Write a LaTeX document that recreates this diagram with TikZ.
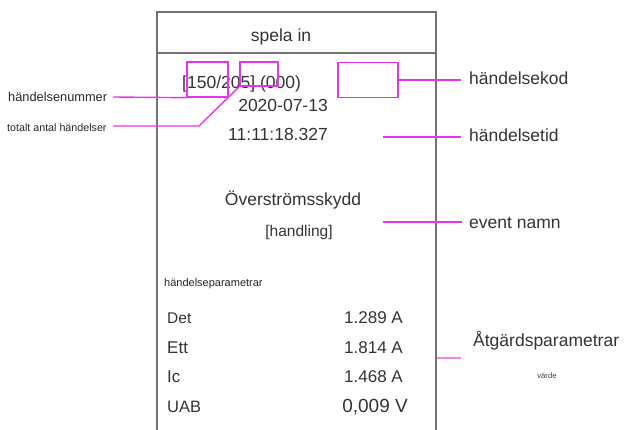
\documentclass[tikz,border=0pt]{standalone}
\usepackage{fontspec}
\setmainfont{Liberation Sans}
\begin{document}
\begin{tikzpicture}[x=1pt,y=-1pt,
  txt/.style={inner sep=0pt, text=black!80, font=\fontsize{17.5}{20}\selectfont},
  small/.style={inner sep=0pt, text=black!85, font=\fontsize{11}{13}\selectfont},
  tiny/.style={inner sep=0pt, text=black!75, font=\fontsize{7.8}{9}\selectfont},
  frameline/.style={draw=black!55, line width=1.3pt},
  mag/.style={draw={rgb,255:red,235;green,50;blue,235}, line width=1.4pt},
  mbox/.style={mag, inner sep=0pt, fill=none}]
\useasboundingbox (0,0) rectangle (624,430);
% screen frame
\coordinate (fl) at (157,430);
\coordinate (ftl) at (157,12);
\coordinate (ftr) at (436,12);
\coordinate (fr) at (436,430);
\draw[frameline] (fl) -- (ftl) -- (ftr) -- (fr);
\coordinate (hl) at (157,53);
\coordinate (hr) at (436,53);
\draw[frameline] (hl) -- (hr);
\node[txt, anchor=base] (title) at (281,42) {spela in};
% header data
\node[txt, anchor=base west] (idx) at (182,89) {[150/205] (000)};
\node[txt, anchor=base east] (date) at (328,112) {2020-07-13};
\node[txt, anchor=base east] (time) at (328,141) {11:11:18.327};
\node[txt, anchor=base] (ename) at (293,206) {Överströmsskydd};
\node[txt, anchor=base, font=\fontsize{15.5}{18}\selectfont] (act) at (299,237) {[handling]};
\node[small, anchor=base west] (ptitle) at (164,287) {händelseparametrar};
% parameters
\node[txt, anchor=base west, font=\fontsize{15.5}{18}\selectfont] (p1) at (167,324) {Det};
\node[txt, anchor=base west, font=\fontsize{17}{20}\selectfont] (p2) at (167,354) {Ett};
\node[txt, anchor=base west, font=\fontsize{17}{20}\selectfont] (p3) at (167,382) {Ic};
\node[txt, anchor=base west, font=\fontsize{16.5}{20}\selectfont] (p4) at (167,412) {UAB};
\node[txt, anchor=base east, font=\fontsize{17}{20}\selectfont] (v1) at (403,324) {1.289 A};
\node[txt, anchor=base east, font=\fontsize{17}{20}\selectfont] (v2) at (403,354) {1.814 A};
\node[txt, anchor=base east, font=\fontsize{17}{20}\selectfont] (v3) at (403,382) {1.468 A};
\node[txt, anchor=base east, font=\fontsize{19}{22}\selectfont] (v4) at (408,412) {0,009 V};
% highlight boxes
\node[mbox, minimum width=41pt, minimum height=35pt] (bnum) at (207.5,79.5) {};
\node[mbox, minimum width=38pt, minimum height=24pt] (btot) at (259,74) {};
\node[mbox, minimum width=60pt, minimum height=35pt] (bcode) at (368,80) {};
% callout labels
\node[small, anchor=base west, font=\fontsize{12.8}{15}\selectfont] (lnum) at (8,102) {händelsenummer};
\node[small, anchor=base west, font=\fontsize{10.7}{13}\selectfont] (ltot) at (7,132) {totalt antal händelser};
\node[txt, anchor=base west] (lcode) at (469,85) {händelsekod};
\node[txt, anchor=base west] (ltime) at (469,142) {händelsetid};
\node[txt, anchor=base west] (lname) at (469,229) {event namn};
\node[txt, anchor=base west] (lpar) at (473,347) {Åtgärdsparametrar};
\node[tiny, anchor=base] (lval) at (547,378) {värde};
% callout lines
\coordinate (cnum) at (113,97);
\coordinate (ctot) at (113,126);
\coordinate (ctotbend) at (199,126);
\coordinate (ccode) at (461,80);
\coordinate (ctime0) at (383,137);
\coordinate (ctime1) at (461,137);
\coordinate (cname0) at (383,222);
\coordinate (cname1) at (462,222);
\coordinate (cpar0) at (437,358);
\coordinate (cpar1) at (461,358);
\draw[mag] (cnum) -- (bnum.south west);
\draw[mag] (ctot) -- (ctotbend) -- (btot.south west);
\draw[mag] (bcode.east) -- (ccode);
\draw[mag] (ctime0) -- (ctime1);
\draw[mag] (cname0) -- (cname1);
\draw[mag, draw opacity=0.6] (cpar0) -- (cpar1);
\end{tikzpicture}
\end{document}
